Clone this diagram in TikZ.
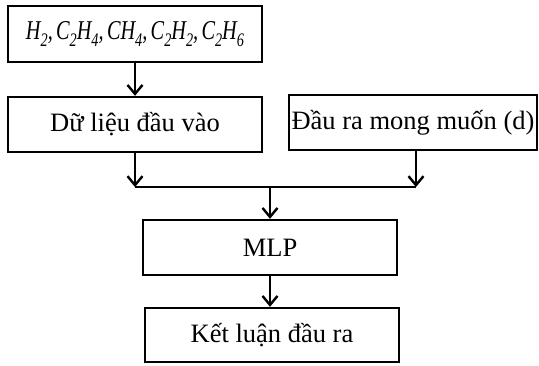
\documentclass[tikz,border=0pt]{standalone}
\usepackage{fontspec}
\setmainfont{Liberation Serif}
\usepackage{graphicx}
\usetikzlibrary{arrows.meta}
\newcommand\chsub[1]{\raisebox{-0.28em}{\fontsize{19}{20}\selectfont #1}}
\begin{document}
\begin{tikzpicture}[x=1pt,y=-1pt,
  box/.style={draw,line width=2.4pt,inner sep=0pt,font=\fontsize{26.5}{31}\selectfont},
  conn/.style={line width=2.4pt},
  arr/.style={conn,-{Straight Barb[length=9pt,width=15pt,line width=2.4pt]}}]
\useasboundingbox (0,0) rectangle (539,365);
\node[box,minimum width=254pt,minimum height=56pt] (gas) at (135,34) {\resizebox{218pt}{18pt}{\fontsize{27}{30}\selectfont\itshape H\chsub{2},\,C\chsub{2}H\chsub{4},\,CH\chsub{4},\,C\chsub{2}H\chsub{2},\,C\chsub{2}H\chsub{6}}};
\node[box,minimum width=254pt,minimum height=55pt] (in) at (135,124.5) {Dữ liệu đầu vào};
\node[box,minimum width=248pt,minimum height=55pt] (out) at (413,122.5) {Đầu ra mong muốn (d)};
\node[box,minimum width=254pt,minimum height=55pt] (mlp) at (270,247.5) {MLP};
\node[box,minimum width=254pt,minimum height=54pt] (res) at (272,335) {Kết luận đầu ra};
\coordinate (jl) at (135,187);
\coordinate (jr) at (416,187);
\coordinate (jm) at (270,187);
\draw[arr] (gas.south) -- (in.north);
\draw[arr] (in.south) -- (jl);
\draw[arr] (out.south -| jr) -- (jr);
\draw[conn] (jl) -- (jr);
\draw[arr] (jm) -- (mlp.north);
\draw[arr] (mlp.south) -- (mlp.south |- res.north);
\end{tikzpicture}
\end{document}
